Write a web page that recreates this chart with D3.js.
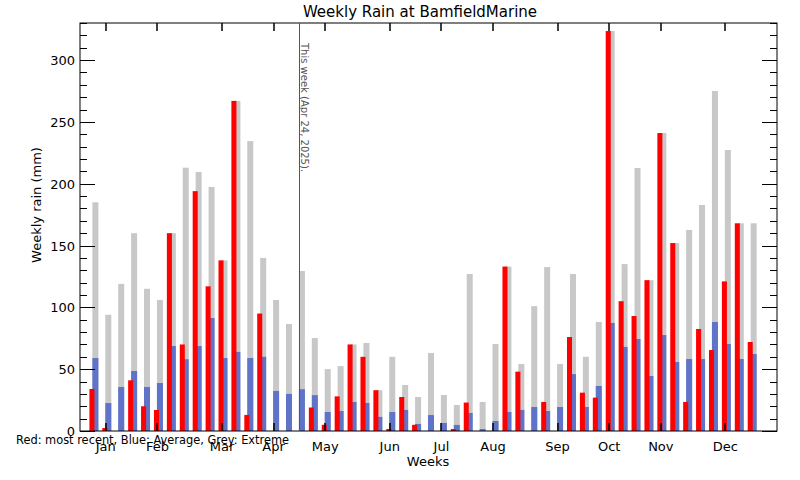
<!DOCTYPE html>
<html><head><meta charset="utf-8">
<script src="https://cdn.jsdelivr.net/npm/d3@7"></script>
<style>body{margin:0;background:#fff;} svg{display:block;} text{font-family:"DejaVu Sans",sans-serif;}</style>
</head><body>
<svg id="c" width="800" height="480"></svg>
<script>
const weeks = d3.range(52);
const recent = [34, 2.4, 0, 41, 20, 17, 160, 70, 194, 117, 138, 267, 13, 95, 0, 0, 0, 19, 5, 28, 70, 60, 33, 1.6, 27.5, 5, 0, 0, 1.6, 23, 0, 0, 133, 48, 0, 23.5, 0, 76, 31, 27, 323.5, 105, 93, 122, 241, 152, 23.5, 82.5, 65.5, 121, 168, 72];
const average = [59, 22.6, 35.6, 48.5, 35.6, 38.8, 68.7, 58, 68.7, 91.4, 59, 64, 59, 60, 32.4, 30, 33.8, 29, 15.4, 16.2, 23.5, 22.7, 11.4, 15.4, 17, 5.7, 12.9, 6.5, 4.9, 14.6, 1.6, 8.1, 15.4, 17, 19.4, 16.2, 19.4, 46, 19.4, 36.4, 87.4, 68, 74.4, 44.5, 77.6, 55.8, 58.2, 58.2, 88.2, 70.4, 58.2, 62.3];
const extreme = [185, 94, 119, 160, 115, 106, 160, 213, 209.5, 197.4, 138, 267, 234.5, 140, 106, 86.5, 129.4, 75.2, 50.1, 52.5, 70, 71.2, 33, 60, 37.2, 27.5, 63.1, 29.1, 21, 127, 23.5, 70.4, 133, 54.2, 101, 132.6, 54.2, 127, 60, 88.2, 323.5, 135, 212.7, 122, 241, 152, 162.6, 182.8, 275, 227.3, 168, 168];
const monthLabels = ["Jan","Feb","Mar","Apr","May","Jun","Jul","Aug","Sep","Oct","Nov","Dec"];
const monthWeeks = [1,5,10,14,18,23,27,31,36,40,44,49];
const yMajor = [0,50,100,150,200,250,300];
const yMinor = d3.range(0, 331, 10);
const thisWeek = 16;

const svg = d3.select("#c");
const L = 80, R = 777, T = 23, B = 431;
const x = d3.scaleLinear().domain([-1, 53]).range([L, R]);
const y = d3.scaleLinear().domain([0, 330]).range([B, T]);
const wk = x(1) - x(0);

// bars
svg.append("g").selectAll("rect").data(weeks).join("rect")
  .attr("x", i => x(i) - 0.04*wk).attr("width", 0.465*wk)
  .attr("y", i => y(extreme[i])).attr("height", i => B - y(extreme[i]))
  .attr("fill", "#c8c8c8");
svg.append("g").selectAll("rect").data(weeks).join("rect")
  .attr("x", i => x(i) - 0.04*wk).attr("width", 0.465*wk)
  .attr("y", i => y(average[i])).attr("height", i => B - y(average[i]))
  .attr("fill", "#5f73c8");
svg.append("g").selectAll("rect").data(weeks.filter(i => recent[i] > 0)).join("rect")
  .attr("x", i => x(i) - 0.27*wk).attr("width", 0.39*wk)
  .attr("y", i => y(recent[i])).attr("height", i => B - y(recent[i]))
  .attr("fill", "#ff0000");

// frame
svg.append("rect").attr("x", L).attr("y", T).attr("width", R - L).attr("height", B - T)
  .attr("fill", "none").attr("stroke", "#000").attr("stroke-width", 1);

// y ticks
const yt = svg.append("g").attr("stroke", "#000").attr("stroke-width", 1);
yMinor.forEach(v => {
  const len = (v % 50 === 0) ? 15 : 7;
  const yy = Math.round(y(v)) + 0.5;
  yt.append("line").attr("x1", L).attr("x2", L + len).attr("y1", yy).attr("y2", yy);
  yt.append("line").attr("x1", R).attr("x2", R - len).attr("y1", yy).attr("y2", yy);
});
svg.append("g").selectAll("text").data(yMajor).join("text")
  .attr("x", 75).attr("y", v => y(v) + 5).attr("text-anchor", "end")
  .attr("font-size", 13).text(v => v);

// x ticks
const xt = svg.append("g").attr("stroke", "#000").attr("stroke-width", 1.5);
monthWeeks.forEach(w => {
  const xx = Math.round(x(w));
  xt.append("line").attr("x1", xx).attr("x2", xx).attr("y1", T).attr("y2", T + 8);
  xt.append("line").attr("x1", xx).attr("x2", xx).attr("y1", B).attr("y2", B - 8);
});
svg.append("g").selectAll("text").data(monthWeeks).join("text")
  .attr("x", w => x(w)).attr("y", 451).attr("text-anchor", "middle")
  .attr("font-size", 13).text((w, i) => monthLabels[i]);

// this week line
svg.append("line").attr("x1", Math.round(x(thisWeek)) + 0.5).attr("x2", Math.round(x(thisWeek)) + 0.5)
  .attr("y1", T).attr("y2", B).attr("stroke", "#555").attr("stroke-width", 1);
svg.append("text").attr("transform", `translate(${x(thisWeek) + 2},43) rotate(90)`)
  .attr("font-size", 10).attr("fill", "#555").text("This week (Apr 24, 2025).");

// titles
svg.append("text").attr("x", 420).attr("y", 17).attr("text-anchor", "middle")
  .attr("font-size", 15).text("Weekly Rain at BamfieldMarine");
svg.append("text").attr("transform", "translate(41,205) rotate(-90)").attr("text-anchor", "middle")
  .attr("font-size", 13).text("Weekly rain (mm)");
svg.append("text").attr("x", 428).attr("y", 466).attr("text-anchor", "middle")
  .attr("font-size", 13).text("Weeks");
svg.append("text").attr("x", 16).attr("y", 444)
  .attr("font-size", 11.4).text("Red: most recent, Blue: Average, Grey: Extreme");
</script>
</body></html>
